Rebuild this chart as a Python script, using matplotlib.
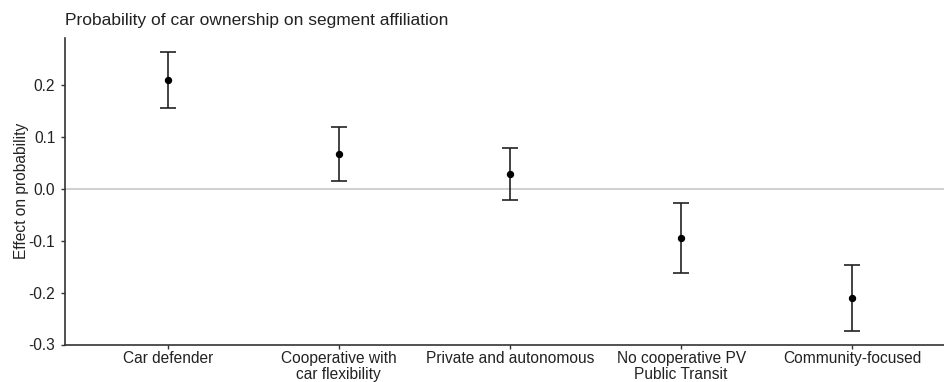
import numpy as np
import matplotlib
matplotlib.use("Agg")
import matplotlib.pyplot as plt

segments = [
    "Car defender",
    "Cooperative with\ncar flexibility",
    "Private and autonomous",
    "No cooperative PV\nPublic Transit",
    "Community-focused",
]
effect = [0.210, 0.066, 0.028, -0.095, -0.210]
lower = [0.156, 0.014, -0.021, -0.163, -0.274]
upper = [0.263, 0.119, 0.078, -0.028, -0.147]
y_ticks = [-0.3, -0.2, -0.1, 0.0, 0.1, 0.2]

plt.rcParams["font.family"] = ["Liberation Sans", "DejaVu Sans"]

fig = plt.figure(figsize=(9.44, 3.82), dpi=100)
ax = fig.add_axes([65 / 944, 1 - 344.5 / 382, 890 / 944, 306.5 / 382])

x = np.arange(1, len(segments) + 1)
effect = np.array(effect)
yerr = [effect - np.array(lower), np.array(upper) - effect]

ax.axhline(0, color="#c8c8c8", linewidth=1.2, zorder=1)

ax.errorbar(
    x,
    effect,
    yerr=yerr,
    fmt="o",
    color="black",
    ecolor="#222222",
    elinewidth=1.2,
    capsize=6.1,
    capthick=1.2,
    markersize=4.3,
    zorder=3
)

ax.set_xlim(0.4, 5.6)
ax.set_ylim(-0.3, 0.29)
ax.set_xticks(x)
ax.set_xticklabels(segments, fontsize=11.2, color="#222222", linespacing=1.05)
ax.set_yticks(y_ticks)
ax.set_yticklabels([f"{v:.1f}" for v in y_ticks], fontsize=11.2, color="#222222")
ax.set_ylabel("Effect on probability", fontsize=11.2, color="#222222")
ax.yaxis.set_label_coords(-0.041, 0.5)

ax.set_title(
    "Probability of car ownership on segment affiliation",
    fontsize=12.5,
    loc="left",
    x=0.0,
    pad=9,
    color="#222222"
)

for side in ["top", "right"]:
    ax.spines[side].set_visible(False)
for side in ["left", "bottom"]:
    ax.spines[side].set_linewidth(1.2)
    ax.spines[side].set_color("#333333")

ax.tick_params(axis="both", length=3, width=1, color="#333333", pad=2)
ax.tick_params(axis="y", pad=4)

fig.savefig("out.png", dpi=100)
